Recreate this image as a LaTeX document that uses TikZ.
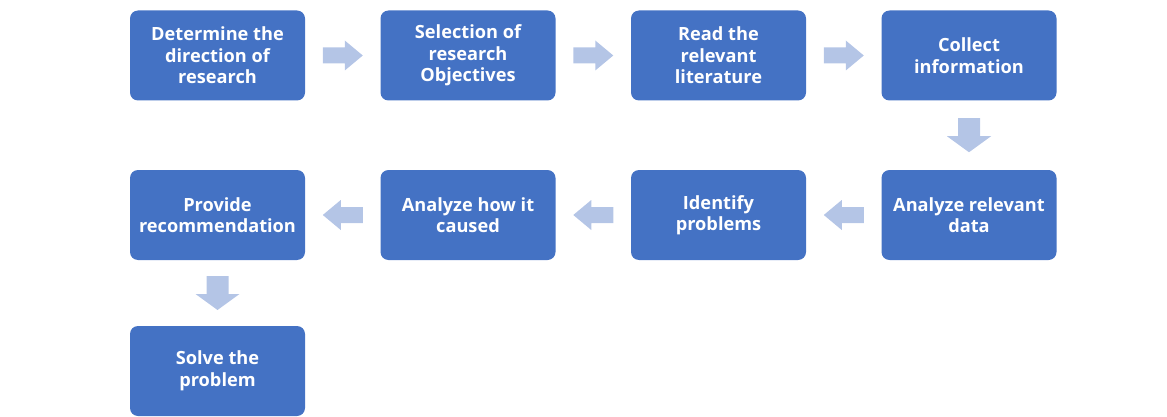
\documentclass[tikz,border=0pt]{standalone}
\usepackage{fontspec}
\setmainfont{Open Sans}
\usetikzlibrary{calc}
\definecolor{boxblue}{HTML}{4472C4}
\definecolor{arrblue}{HTML}{B4C5E6}
\tikzset{
  stepbox/.style={rounded corners=8pt, fill=boxblue, text=white, minimum width=175pt, minimum height=90pt,
    align=center, inner sep=0pt, font=\bfseries\fontsize{18.2}{21.5}\selectfont},
  harrow/.pic={\fill[arrblue] (-20,8) -- (2,8) -- (2,15) -- (20,0) -- (2,-15) -- (2,-8) -- (-20,-8) -- cycle;},
  varrow/.pic={\fill[arrblue] (-17,11) -- (1,11) -- (1,22) -- (17,0) -- (1,-22) -- (1,-11) -- (-17,-11) -- cycle;}
}
\begin{document}
\begin{tikzpicture}[x=1pt,y=-1pt]
\useasboundingbox (0,0) rectangle (1167,417);
\node[stepbox] (n1) at (217.5,55.5) {Determine the\\direction of\\research};
\node[stepbox] (n2) at (468,55.5) {Selection of\\research\\Objectives};
\node[stepbox] (n3) at (718.5,55.5) {Read the\\relevant\\literature};
\node[stepbox] (n4) at (969,55.5) {Collect\\information};
\node[stepbox] (n5) at (969,215) {Analyze relevant\\data};
\node[stepbox] (n6) at (718.5,215) {Identify\\problems};
\node[stepbox] (n7) at (468,215) {Analyze how it\\caused};
\node[stepbox] (n8) at (217.5,215) {Provide\\recommendation};
\node[stepbox] (n9) at (217.5,371) {Solve the\\problem};
\path ($(n1.east)!0.5!(n2.west)$) pic{harrow};
\path ($(n2.east)!0.5!(n3.west)$) pic{harrow};
\path ($(n3.east)!0.5!(n4.west)$) pic{harrow};
\path ($(n4.south)!0.5!(n5.north)$) pic[rotate=-90]{varrow};
\path ($(n5.west)!0.5!(n6.east)$) pic[rotate=180]{harrow};
\path ($(n6.west)!0.5!(n7.east)$) pic[rotate=180]{harrow};
\path ($(n7.west)!0.5!(n8.east)$) pic[rotate=180]{harrow};
\path ($(n8.south)!0.5!(n9.north)$) pic[rotate=-90]{varrow};
\end{tikzpicture}
\end{document}
